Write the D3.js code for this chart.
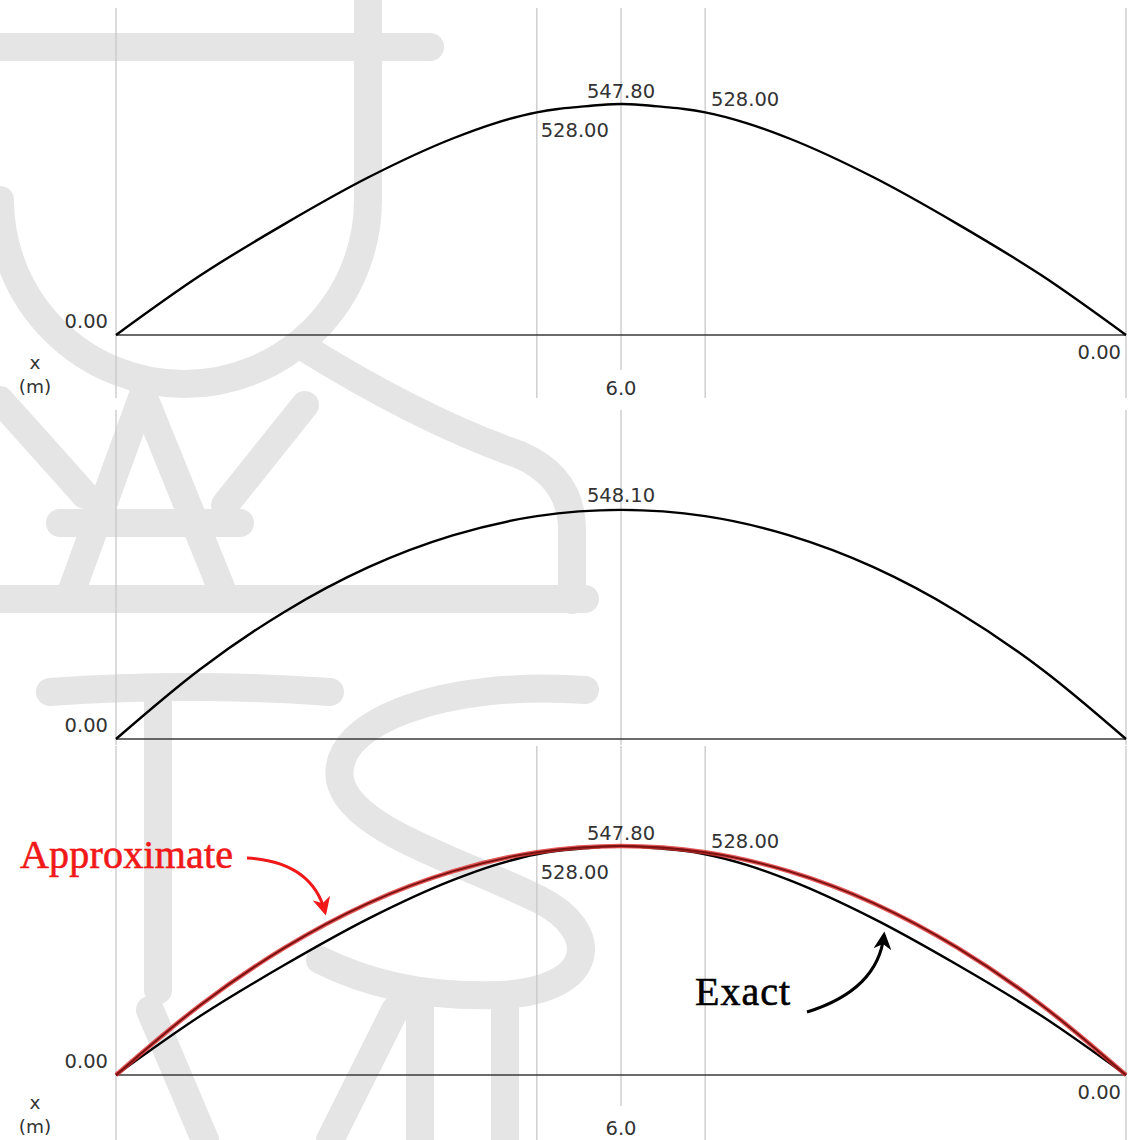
<!DOCTYPE html>
<html>
<head>
<meta charset="utf-8">
<script src="https://cdn.jsdelivr.net/npm/d3@7"></script>
<style>
  body { margin: 0; background: #fff; }
  svg { display: block; }
</style>
</head>
<body>
<div id="chart"></div>
<script>
// bending moment values (x in m)
const exactX = [0, 1, 2, 3, 4, 4.5, 5, 5.25, 5.5, 5.75, 6, 6.25, 6.5, 6.75, 7, 7.5, 8, 9, 10, 11, 12];
const exactM = [0, 141, 263, 374, 466, 502, 528, 536, 541, 545.5, 547.8, 545.5, 541, 536, 528, 502, 466, 374, 263, 141, 0];
const approxX = [0, 1, 2, 3, 4, 5, 6, 7, 8, 9, 10, 11, 12];
const approxM = [0, 167, 304, 411, 487, 533, 548.1, 533, 487, 411, 304, 167, 0];

const exactLabels = [
  { x: 6, text: "547.80", dx: 0, dy: -6 },
  { x: 5, text: "528.00", dx: 38, dy: 25 },
  { x: 7, text: "528.00", dx: 40, dy: -6 }
];
const approxLabels = [{ x: 6, text: "548.10", dx: 0, dy: -8 }];
const tickLabel = "6.0";

const W = 1136, H = 1140;
const svg = d3.select("#chart").append("svg")
  .attr("width", W)
  .attr("height", H);

svg.append("rect").attr("width", W).attr("height", H).attr("fill", "#fff");

// faint watermark logo behind the chart
const wm = svg.append("g")
  .attr("fill", "none")
  .attr("stroke", "#e5e5e5")
  .attr("stroke-width", 28);
const wmPaths = [
  "M0,47 H430",
  "M368,0 V200 A184,184 0 0 1 0,200",
  "M300,345 Q420,420 520,455 Q572,478 572,530 V600",
  "M0,599 H585",
  "M143,395 L72,590", "M143,395 L222,590", "M60,523 H240",
  "M0,400 L85,495", "M305,405 L225,505",
  "M50,692 Q190,682 330,692", "M158,692 V990",
  "M585,690 C450,680 330,720 340,780 C350,830 460,860 540,900 C600,930 600,990 500,995 C420,998 360,980 320,960",
  "M150,1010 L205,1140", "M395,1010 L330,1140",
  "M420,1005 V1140", "M505,1005 V1140"
];
wm.selectAll("path").data(wmPaths).enter().append("path")
  .attr("d", d => d)
  .attr("stroke-linecap", "round");

const x = d3.scaleLinear().domain([0, 12]).range([116, 1126]);

const panels = [
  { base: 335, peak: 104, top: 8, bottom: 398, grid: [0, 5, 6, 7, 12], gap: [370, 410], right0: true, xlab: true },
  { base: 739, peak: 510, top: 410, bottom: 745, grid: [0, 6, 12], gap: null, right0: false, xlab: false },
  { base: 1075, peak: 846, top: 746, bottom: 1140, grid: [0, 5, 6, 7, 12], gap: [1106, 1140], right0: true, xlab: true }
];

const txt = (g, px, py, s, anchor, size) => g.append("text")
  .attr("x", px).attr("y", py)
  .attr("text-anchor", anchor || "middle")
  .attr("font-family", "DejaVu Sans, Verdana, sans-serif")
  .attr("font-size", size || 19.5)
  .attr("fill", "#333")
  .text(s);

panels.forEach((p, i) => {
  p.y = d3.scaleLinear().domain([0, 547.8]).range([p.base, p.peak]);
  const g = svg.append("g");

  p.grid.forEach(v => {
    const bot = (v === 6 && p.gap) ? p.gap[0] : p.bottom;
    g.append("line")
      .attr("x1", x(v)).attr("x2", x(v))
      .attr("y1", p.top).attr("y2", bot)
      .attr("stroke", "#c8c8c8").attr("stroke-width", 1.3);
  });

  g.append("line")
    .attr("x1", x(0)).attr("x2", x(12))
    .attr("y1", p.base).attr("y2", p.base)
    .attr("stroke", "#3a3a3a").attr("stroke-width", 1.7);

  txt(g, 108, p.base - 7, "0.00", "end");
  if (p.right0) txt(g, 1121, p.base + 24, "0.00", "end");
  if (p.xlab) {
    txt(g, 35, p.base + 34, "x", "middle", 18.5);
    txt(g, 35, p.base + 58, "(m)", "middle", 18.5);
    txt(g, x(6), p.base + 60, tickLabel);
  }
});

const lineOf = (xs, ys, sc) => d3.line()
  .x((d, i) => x(xs[i]))
  .y(d => sc(d))
  .curve(d3.curveMonotoneX)(ys);

// top: exact
const pTop = panels[0];
svg.append("path").attr("d", lineOf(exactX, exactM, pTop.y))
  .attr("fill", "none").attr("stroke", "#000").attr("stroke-width", 2.4);
exactLabels.forEach(l => txt(svg, x(l.x) + l.dx, pTop.y(exactM[exactX.indexOf(l.x)]) + l.dy, l.text));

// middle: approximate
const pMid = panels[1];
svg.append("path").attr("d", lineOf(approxX, approxM, pMid.y))
  .attr("fill", "none").attr("stroke", "#000").attr("stroke-width", 2.4);
approxLabels.forEach(l => txt(svg, x(l.x), pMid.y(approxM[approxX.indexOf(l.x)]) + l.dy, l.text));

// bottom: both
const pBot = panels[2];
svg.append("path").attr("d", lineOf(exactX, exactM, pBot.y))
  .attr("fill", "none").attr("stroke", "#000").attr("stroke-width", 2.4);
svg.append("path").attr("d", lineOf(approxX, approxM, pBot.y))
  .attr("fill", "none").attr("stroke", "#e03030").attr("stroke-width", 4.5).attr("stroke-opacity", 0.8);
svg.append("path").attr("d", lineOf(approxX, approxM, pBot.y))
  .attr("fill", "none").attr("stroke", "#7a1212").attr("stroke-width", 2);
exactLabels.forEach(l => txt(svg, x(l.x) + l.dx, pBot.y(exactM[exactX.indexOf(l.x)]) + l.dy, l.text));

// annotations
const defs = svg.append("defs");
[["red", "#f01818"], ["blk", "#000"]].forEach(([id, c]) => {
  defs.append("marker")
    .attr("id", "arr-" + id)
    .attr("viewBox", "0 0 10 10")
    .attr("refX", 8).attr("refY", 5)
    .attr("markerWidth", 6).attr("markerHeight", 6)
    .attr("markerUnits", "strokeWidth")
    .attr("orient", "auto")
    .append("path")
    .attr("d", "M0,0 L10,5 L0,10 L3,5 Z")
    .attr("fill", c);
});

svg.append("text")
  .attr("x", 20).attr("y", 868)
  .attr("font-family", "Liberation Serif, DejaVu Serif, serif")
  .attr("font-size", 40)
  .attr("textLength", 213)
  .attr("fill", "#f01818")
  .attr("stroke", "#f01818").attr("stroke-width", 0.6)
  .text("Approximate");
svg.append("path")
  .attr("d", "M247,858 Q312,862 325,912")
  .attr("fill", "none").attr("stroke", "#f01818").attr("stroke-width", 3)
  .attr("marker-end", "url(#arr-red)");

svg.append("text")
  .attr("x", 695).attr("y", 1005)
  .attr("font-family", "Liberation Serif, DejaVu Serif, serif")
  .attr("font-size", 40)
  .attr("textLength", 95)
  .attr("fill", "#000")
  .attr("stroke", "#000").attr("stroke-width", 0.6)
  .text("Exact");
svg.append("path")
  .attr("d", "M807,1012 Q878,990 884,935")
  .attr("fill", "none").attr("stroke", "#000").attr("stroke-width", 3)
  .attr("marker-end", "url(#arr-blk)");
</script>
</body>
</html>
